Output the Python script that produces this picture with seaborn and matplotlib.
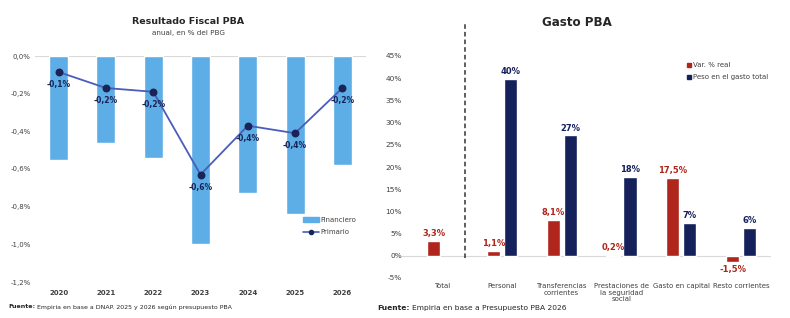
import numpy as np
import pandas as pd
import matplotlib
matplotlib.use("Agg")
import matplotlib.pyplot as plt
import seaborn as sns
from matplotlib.patches import Patch
from matplotlib.lines import Line2D

# data - left chart (resultado fiscal, % del PBG)
years = ["2020", "2021", "2022", "2023", "2024", "2025", "2026"]
financiero = [-0.55, -0.46, -0.54, -1.00, -0.73, -0.84, -0.58]
primario = [-0.085, -0.17, -0.19, -0.63, -0.37, -0.41, -0.17]

# data - right chart (gasto PBA)
categorias = ["Total", "Personal", "Transferencias\ncorrientes",
              "Prestaciones de\nla seguridad\nsocial", "Gasto en capital",
              "Resto corrientes"]
var_real = [3.3, 1.1, 8.1, 0.2, 17.5, -1.5]
peso = [np.nan, 39.9, 27.1, 17.7, 7.4, 6.2]
series = ["Var. % real", "Peso en el gasto total"]

LIGHT_BLUE = "#5DADE6"
LINE_BLUE = "#4A5DBA"
DARK_NAVY = "#1A2456"
RED = "#B0261C"
NAVY = "#14215B"


def pct(v, dec=1):
    v = round(v, dec) + 0.0
    if v == 0:
        v = 0.0
    return f"{v:.{dec}f}%".replace(".", ",")


def fuente(fig, x, y, rest, size):
    t = fig.text(x, y, "Fuente:", fontsize=size, fontweight="bold", va="center")
    r = fig.canvas.get_renderer()
    bb = t.get_window_extent(renderer=r)
    w = bb.width / fig.bbox.width
    fig.text(x + w + 0.003, y, rest, fontsize=size, va="center")


sns.set_style("white")
plt.rcParams["font.family"] = ["DejaVu Sans"]

fig = plt.figure(figsize=(7.9, 3.18), dpi=100)

# ---- left: Resultado Fiscal PBA
ax1 = fig.add_axes([35 / 790, 1 - 282 / 318, 331 / 790, 226 / 318])
sns.barplot(x=years, y=financiero, color=LIGHT_BLUE, width=0.4, ax=ax1,
            saturation=1)
sns.pointplot(x=years, y=primario, color=LINE_BLUE, ax=ax1, markers="o",
              markersize=0, linewidth=1.3)
ax1.scatter(range(len(years)), primario, s=22, color=DARK_NAVY, zorder=5)
for i, v in enumerate(primario):
    ax1.annotate(pct(v), (i, v), xytext=(0, -9), textcoords="offset points",
                 ha="center", va="center", fontsize=5.5, fontweight="bold",
                 color=DARK_NAVY, zorder=6)
yt1 = np.round(np.arange(-1.2, 0.01, 0.2), 1)
ax1.set_ylim(-1.2, 0)
ax1.set_xlim(-0.5, 6.5)
ax1.set_yticks(yt1)
ax1.set_yticklabels([pct(v) for v in yt1])
ax1.axhline(0, color="#d9d9d9", lw=0.8, zorder=0)
ax1.tick_params(axis="both", labelsize=5, length=0, pad=3, colors="#404040")
ax1.tick_params(axis="x", pad=6)
for lab in ax1.get_xticklabels():
    lab.set_fontweight("bold")
ax1.set_xlabel("")
ax1.set_ylabel("")
sns.despine(ax=ax1, left=True, bottom=True)
handles = [Patch(color=LIGHT_BLUE, label="Financiero"),
           Line2D([0], [0], color=LINE_BLUE, marker="o", markersize=3,
                  markerfacecolor=DARK_NAVY, markeredgecolor=DARK_NAVY,
                  lw=1.2, label="Primario")]
ax1.legend(handles=handles, loc="upper left", bbox_to_anchor=(0.79, 0.315),
           frameon=False, fontsize=5, handlelength=2.3, handleheight=0.6,
           labelspacing=0.9, handletextpad=0.2, labelcolor="#404040")

fig.text(188 / 790, 1 - 21 / 318, "Resultado Fiscal PBA", ha="center",
         va="center", fontsize=6.8, fontweight="bold")
fig.text(188 / 790, 1 - 33 / 318, "anual, en % del PBG", ha="center",
         va="center", fontsize=5.2, color="#404040")
fuente(fig, 8 / 790, 1 - 307 / 318,
       "Empiria en base a DNAP. 2025 y 2026 según presupuesto PBA", 4.5)

# ---- right: Gasto PBA
df = pd.DataFrame({
    "categoria": categorias * 2,
    "serie": [series[0]] * len(categorias) + [series[1]] * len(categorias),
    "valor": var_real + peso,
}).dropna()

ax2 = fig.add_axes([402 / 790, 1 - 278 / 318, 369 / 790, 222 / 318])
sns.barplot(data=df, x="categoria", y="valor", hue="serie",
            order=categorias, hue_order=series, palette=[RED, NAVY],
            width=0.57, gap=0.22, errorbar=None, saturation=1, ax=ax2)
for cont, col, dec in zip(ax2.containers, [RED, NAVY], [1, 0]):
    labs = [pct(p.get_height(), dec) for p in cont]
    ax2.bar_label(cont, labels=labs, padding=2, fontsize=6,
                  fontweight="bold", color=col)
yt2 = np.arange(-5, 46, 5)
ax2.set_ylim(-5, 45)
ax2.set_xlim(-0.67, 5.5)
ax2.set_yticks(yt2)
ax2.set_yticklabels([f"{v}%" for v in yt2])
ax2.axhline(0, color="#d9d9d9", lw=0.8, zorder=0)
ax2.plot([0.38, 0.38], [-0.4, 52.3], color="#333333", lw=1.1,
         ls=(0, (3, 2)), clip_on=False)
ax2.tick_params(axis="both", labelsize=5.3, length=0, colors="#404040")
ax2.tick_params(axis="y", pad=0)
ax2.tick_params(axis="x", pad=3.5, labelsize=5)
for lab in ax2.get_xticklabels():
    lab.set_linespacing(1.15)
ax2.set_xlabel("")
ax2.set_ylabel("")
sns.despine(ax=ax2, left=True, bottom=True)
leg_handles = [Line2D([0], [0], marker="s", ls="none", markersize=3.5,
                      color=c, label=s) for c, s in zip([RED, NAVY], series)]
ax2.legend(handles=leg_handles, loc="upper left", bbox_to_anchor=(0.755, 1.0),
           frameon=False, fontsize=5, handlelength=0.6, handletextpad=0.3,
           labelspacing=0.9, labelcolor="#404040")

fig.text(577 / 790, 1 - 23 / 318, "Gasto PBA", ha="center", va="center",
         fontsize=8.6, fontweight="bold")
fuente(fig, 377 / 790, 1 - 308 / 318,
       "Empiria en base a Presupuesto PBA 2026", 5.4)

fig.savefig("out.png", dpi=100)
